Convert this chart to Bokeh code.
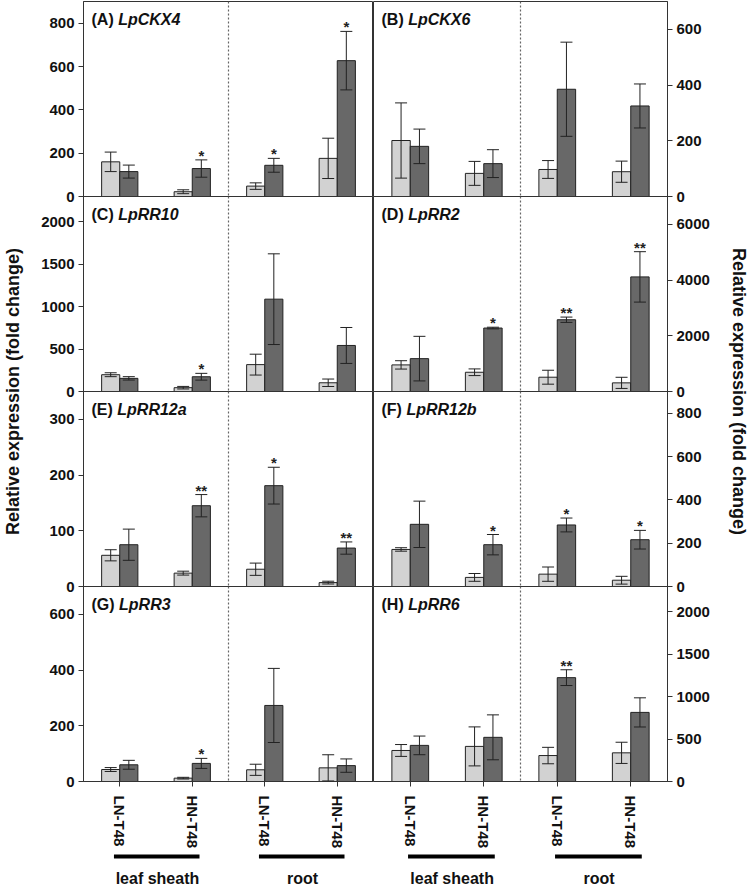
import math
import numpy as np
from bokeh.plotting import figure
from bokeh.models import (ColumnDataSource, Range1d, FixedTicker, Span, Label,
                          Whisker, TeeHead)
from bokeh.layouts import row, column
from bokeh.embed import file_html
from bokeh.resources import INLINE
from bokeh.core.properties import value

# ---------------- data ----------------
treatments = ["LN-T48", "HN-T48", "LN-T48", "HN-T48"]
tissues = ["leaf sheath", "root"]
letters = ["A", "B", "C", "D", "E", "F", "G", "H"]
genes = ["LpCKX4", "LpCKX6", "LpRR10", "LpRR2", "LpRR12a", "LpRR12b", "LpRR3", "LpRR6"]

light_mean = {
    "LpCKX4": [160, 22, 48, 176],
    "LpCKX6": [201, 83, 97, 89],
    "LpRR10": [198, 45, 317, 103],
    "LpRR2": [955, 691, 513, 310],
    "LpRR12a": [56, 24, 31, 7],
    "LpRR12b": [171, 42, 57, 29],
    "LpRR3": [43, 12, 42, 49],
    "LpRR6": [366, 414, 306, 338],
}
light_err = {
    "LpCKX4": [45, 9, 15, 93],
    "LpCKX6": [135, 43, 32, 38],
    "LpRR10": [23, 15, 123, 44],
    "LpRR2": [150, 120, 250, 200],
    "LpRR12a": [10, 3.5, 11, 2.5],
    "LpRR12b": [8, 18, 33, 18],
    "LpRR3": [7, 3, 20, 47],
    "LpRR6": [70, 230, 97, 125],
}
dark_mean = {
    "LpCKX4": [115, 129, 144, 627],
    "LpCKX6": [180, 118, 385, 325],
    "LpRR10": [155, 174, 1089, 543],
    "LpRR2": [1180, 2278, 2576, 4114],
    "LpRR12a": [75, 145, 181, 69],
    "LpRR12b": [287, 193, 284, 216],
    "LpRR3": [60, 65, 273, 57],
    "LpRR6": [426, 521, 1225, 815],
}
dark_err = {
    "LpCKX4": [30, 40, 32, 135],
    "LpCKX6": [62, 50, 169, 79],
    "LpRR10": [20, 40, 535, 212],
    "LpRR2": [800, 30, 95, 905],
    "LpRR12a": [28, 20, 33, 11],
    "LpRR12b": [107, 47, 32, 43],
    "LpRR3": [16, 18, 133, 24],
    "LpRR6": [110, 265, 93, 172],
}
signif = {
    "LpCKX4": ["", "*", "*", "*"],
    "LpCKX6": ["", "", "", ""],
    "LpRR10": ["", "*", "", ""],
    "LpRR2": ["", "*", "**", "**"],
    "LpRR12a": ["", "**", "*", "**"],
    "LpRR12b": ["", "*", "*", "*"],
    "LpRR3": ["", "*", "", ""],
    "LpRR6": ["", "", "**", ""],
}
y_max = [900, 700, 2300, 7000, 350, 900, 700, 2300]
y_step = [200, 200, 500, 2000, 100, 200, 200, 500]
y_top_tick = [800, 600, 2000, 6000, 300, 800, 600, 2000]

y_title = "Relative expression (fold change)"

# ---------------- style ----------------
FONT = "Liberation Sans"
LIGHT = "#d2d2d2"
DARK = "#686868"
FRAME_H = 195
FW_L, FW_R = 290, 294
MB_L, MB_R = 59, 58
OV = 8                      # overlap band so that "0" labels are not clipped
BOTTOM_AXIS = 70
STRIP_H = 38
TITLE_W_L, TITLE_W_R = 24, 25
TOTAL_H = 1 + FRAME_H * 4 + BOTTOM_AXIS + STRIP_H
TITLE_FS = 16
TITLE_CENTER_FROM_TOP = 391

# Arial-bold advance widths (em) for panel-letter prefix
CW = {"(": 0.333, ")": 0.333, " ": 0.278, "A": 0.722, "B": 0.722, "C": 0.722,
      "D": 0.722, "E": 0.667, "F": 0.611, "G": 0.778, "H": 0.722}

centers = np.arange(len(treatments)) + 0.5


def make_panel(i):
    gene = genes[i]
    left_col = (i % 2 == 0)
    top_row = i < 2
    bottom_row = i >= 6
    p = figure(
        frame_width=FW_L if left_col else FW_R,
        frame_height=FRAME_H,
        x_range=Range1d(0, 4),
        y_range=Range1d(0, y_max[i]),
        output_backend="svg",
        toolbar_location=None,
        x_axis_location="below" if bottom_row else None,
        y_axis_location="left" if left_col else "right",
        min_border_left=MB_L if left_col else 0,
        min_border_right=0 if left_col else MB_R,
        min_border_top=1 if top_row else 0,
        min_border_bottom=BOTTOM_AXIS if bottom_row else OV,
        margin=(0, 0, 0, 0) if top_row else (-OV, 0, 0, 0),
    )
    p.outline_line_color = "#333333"
    p.outline_line_width = 1
    p.grid.visible = False
    p.background_fill_color = None
    p.border_fill_color = None

    # y axis
    ya = p.yaxis[0]
    ya.ticker = FixedTicker(ticks=list(range(0, y_top_tick[i] + 1, y_step[i])))
    ya.minor_tick_line_color = None
    ya.major_tick_out = 5
    ya.major_tick_in = 0
    ya.axis_line_color = "#333333"
    ya.major_tick_line_color = "#333333"
    ya.major_label_text_font = FONT
    ya.major_label_text_font_style = "bold"
    ya.major_label_text_font_size = "15px"
    ya.major_label_text_color = "#111111"
    ya.major_label_standoff = 4

    if bottom_row:
        xa = p.xaxis[0]
        xa.ticker = FixedTicker(ticks=list(centers))
        xa.major_label_overrides = {float(c): t for c, t in zip(centers, treatments)}
        xa.major_label_orientation = -math.pi / 2
        xa.minor_tick_line_color = None
        xa.major_tick_out = 5
        xa.major_tick_in = 0
        xa.axis_line_color = "#333333"
        xa.major_tick_line_color = "#333333"
        xa.major_label_text_font = FONT
        xa.major_label_text_font_style = "bold"
        xa.major_label_text_font_size = "15px"
        xa.major_label_text_color = "#111111"
        xa.major_label_standoff = 9

    # dashed separator between tissues
    p.add_layout(Span(location=2, dimension="height", line_color="#666666",
                      line_dash="2 2", line_width=1.2))

    lm, le = light_mean[gene], light_err[gene]
    dm, de = dark_mean[gene], dark_err[gene]
    src_l = ColumnDataSource(dict(
        x=centers - 0.125, top=lm,
        upper=[m + e for m, e in zip(lm, le)],
        lower=[max(m - e, 0) for m, e in zip(lm, le)]))
    src_d = ColumnDataSource(dict(
        x=centers + 0.125, top=dm,
        upper=[m + e for m, e in zip(dm, de)],
        lower=[max(m - e, 0) for m, e in zip(dm, de)],
        sig=signif[gene]))

    p.vbar(x="x", top="top", bottom=0, width=0.25, source=src_l,
           fill_color=LIGHT, line_color="#222222", line_width=1)
    p.vbar(x="x", top="top", bottom=0, width=0.25, source=src_d,
           fill_color=DARK, line_color="#222222", line_width=1)

    for src in (src_l, src_d):
        w = Whisker(source=src, base="x", upper="upper", lower="lower",
                    dimension="height", line_color="#222222", line_width=1,
                    upper_head=TeeHead(size=12, line_color="#222222", line_width=1),
                    lower_head=TeeHead(size=12, line_color="#222222", line_width=1),
                    level="annotation")
        p.add_layout(w)

    p.text(x="x", y="upper", text="sig", source=src_d, text_align="center",
           text_baseline="bottom", y_offset=4, text_font=value(FONT),
           text_font_size="15px", text_font_style="bold", text_color="#222222")

    # panel title: "(A) " + italic gene name
    prefix = "(" + letters[i] + ")"
    p.add_layout(Label(x=8, y=FRAME_H - 9, x_units="screen", y_units="screen",
                       text=prefix, text_font=FONT, text_font_style="bold",
                       text_font_size=f"{TITLE_FS}px", text_baseline="top",
                       text_color="#111111"))
    pre_w = sum(CW[c] for c in prefix + " ") * TITLE_FS
    p.add_layout(Label(x=8 + pre_w, y=FRAME_H - 9, x_units="screen",
                       y_units="screen", text=gene, text_font=FONT,
                       text_font_style="bold italic",
                       text_font_size=f"{TITLE_FS}px",
                       text_baseline="top", text_color="#111111"))
    return p


def make_strip(left_col):
    s = figure(
        frame_width=FW_L if left_col else FW_R, frame_height=STRIP_H,
        x_range=Range1d(0, 4), y_range=Range1d(STRIP_H, 0),
        output_backend="svg", toolbar_location=None,
        x_axis_location=None, y_axis_location=None,
        min_border_left=MB_L if left_col else 0,
        min_border_right=0 if left_col else MB_R,
        min_border_top=0, min_border_bottom=0,
    )
    s.outline_line_color = None
    s.grid.visible = False
    s.border_fill_color = None
    s.background_fill_color = None
    shift = 0.0 if left_col else 0.05
    for k, tissue in enumerate(tissues):
        c = 2 * k + 1 + shift
        s.segment(x0=[c - 0.58], y0=[5], x1=[c + 0.6], y1=[5],
                  line_color="black", line_width=4)
        s.text(x=[c + 0.02], y=[27], text=[tissue], text_align="center",
               text_baseline="middle", text_font=value(FONT),
               text_font_size="16px", text_font_style="bold",
               text_color="#111111")
    return s


def make_title(width, angle, sx):
    t = figure(width=width, height=TOTAL_H, x_range=Range1d(0, 1),
               y_range=Range1d(0, 1), output_backend="svg",
               toolbar_location=None, x_axis_location=None,
               y_axis_location=None, min_border=0)
    t.outline_line_color = None
    t.grid.visible = False
    t.border_fill_color = None
    t.background_fill_color = None
    t.add_layout(Label(x=sx, y=TOTAL_H - TITLE_CENTER_FROM_TOP, x_units="screen",
                       y_units="screen", text=y_title, angle=angle,
                       text_align="center", text_baseline="middle",
                       text_font=FONT, text_font_style="bold",
                       text_font_size="18px", text_color="#111111"))
    return t


panels = [make_panel(i) for i in range(8)]
grid = column(
    row(panels[0], panels[1]),
    row(panels[2], panels[3]),
    row(panels[4], panels[5]),
    row(panels[6], panels[7]),
    row(make_strip(True), make_strip(False)),
)
layout = row(make_title(TITLE_W_L, math.pi / 2, 12),
             grid,
             make_title(TITLE_W_R, -math.pi / 2, 13))

open("out.html", "w").write(file_html(layout, INLINE))
